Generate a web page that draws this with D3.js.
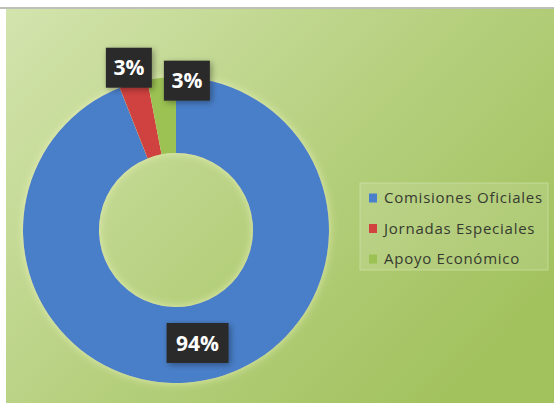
<!DOCTYPE html>
<html>
<head>
<meta charset="utf-8">
<script src="https://cdn.jsdelivr.net/npm/d3@7"></script>
<style>
  body { margin: 0; background: #fff; }
  svg { display: block; }
</style>
</head>
<body>
<div id="chart"></div>
<script>
// Chart data
const categories = ["Comisiones Oficiales", "Jornadas Especiales", "Apoyo Económico"];
const values = [94, 3, 3];
const labels = ["94%", "3%", "3%"];
const colors = ["#4a7fc9", "#d0433f", "#9cc253"];

const w = 554;
const h = 404;

const svg = d3.select("#chart")
  .append("svg")
  .attr("width", w)
  .attr("height", h);

const defs = svg.append("defs");

// background gradient
const grad = defs.append("linearGradient")
  .attr("id", "bg")
  .attr("x1", 0).attr("y1", 0)
  .attr("x2", 1).attr("y2", 0.7);
grad.append("stop").attr("offset", "0%").attr("stop-color", "#d3e4ad");
grad.append("stop").attr("offset", "55%").attr("stop-color", "#b6d07f");
grad.append("stop").attr("offset", "100%").attr("stop-color", "#a2c25e");

const shadow = defs.append("filter")
  .attr("id", "shadow")
  .attr("x", "-20%").attr("y", "-20%")
  .attr("width", "140%").attr("height", "140%");
shadow.append("feDropShadow")
  .attr("dx", 2).attr("dy", 2)
  .attr("stdDeviation", 3)
  .attr("flood-color", "#000")
  .attr("flood-opacity", 0.35);

const glow = defs.append("filter")
  .attr("id", "glow")
  .attr("x", "-10%").attr("y", "-10%")
  .attr("width", "120%").attr("height", "120%");
glow.append("feDropShadow")
  .attr("dx", 0).attr("dy", 0)
  .attr("stdDeviation", 4)
  .attr("flood-color", "#f4f8c0")
  .attr("flood-opacity", 0.7);

// top strip
svg.append("rect")
  .attr("x", 0).attr("y", 7)
  .attr("width", w).attr("height", 2)
  .attr("fill", "#bcc0b6");

svg.append("rect")
  .attr("x", 6).attr("y", 9)
  .attr("width", w - 6).attr("height", h - 10)
  .attr("fill", "url(#bg)");

// Donut
const cx = 176, cy = 230;
const outerR = 153, innerR = 77;

const pie = d3.pie().sort(null).value((d) => d);
const arcs = pie(values);
const arc = d3.arc().innerRadius(innerR).outerRadius(outerR);

const g = svg.append("g")
  .attr("transform", "translate(" + cx + "," + cy + ")");

g.append("g")
  .attr("filter", "url(#glow)")
  .selectAll("path")
  .data(arcs)
  .enter()
  .append("path")
  .attr("d", arc)
  .attr("fill", (d, i) => colors[i]);

// data labels (label radius and nudge for each slice)
const labelPlace = [
  { r: 115, dx: 0, dy: 0, w: 62 },
  { r: 169, dx: 0, dy: 0, w: 46 },
  { r: 150, dx: 25, dy: 0, w: 46 }
];

arcs.forEach((d, i) => {
  const p = labelPlace[i];
  const a = (d.startAngle + d.endAngle) / 2;
  const x = Math.sin(a) * p.r + p.dx;
  const y = -Math.cos(a) * p.r + p.dy;
  const lg = g.append("g")
    .attr("transform", "translate(" + x + "," + y + ")");
  lg.append("rect")
    .attr("x", -p.w / 2).attr("y", -20)
    .attr("width", p.w).attr("height", 40)
    .attr("fill", "#2c2b2a")
    .attr("filter", "url(#shadow)");
  lg.append("text")
    .attr("text-anchor", "middle")
    .attr("dy", "0.36em")
    .attr("fill", "#fff")
    .attr("font-family", "'Open Sans', sans-serif")
    .attr("font-weight", "bold")
    .attr("font-size", 21)
    .text(labels[i]);
});

// Legend
const legend = svg.append("g")
  .attr("transform", "translate(360,183)");

legend.append("rect")
  .attr("width", 188).attr("height", 87)
  .attr("fill", "#ffffff")
  .attr("fill-opacity", 0.12)
  .attr("stroke", "#d6e6b0")
  .attr("stroke-opacity", 0.6);

const item = legend.selectAll(".item")
  .data(categories)
  .enter()
  .append("g")
  .attr("class", "item")
  .attr("transform", (d, i) => "translate(9," + (15 + i * 30.5) + ")");

item.append("rect")
  .attr("x", 0).attr("y", -4.5)
  .attr("width", 8).attr("height", 9)
  .attr("fill", (d, i) => colors[i]);

item.append("text")
  .attr("x", 15)
  .attr("dy", "0.35em")
  .attr("fill", "#363a30")
  .attr("font-family", "'Open Sans', sans-serif")
  .attr("font-size", 15)
  .attr("letter-spacing", 0.75)
  .text((d) => d);
</script>
</body>
</html>
